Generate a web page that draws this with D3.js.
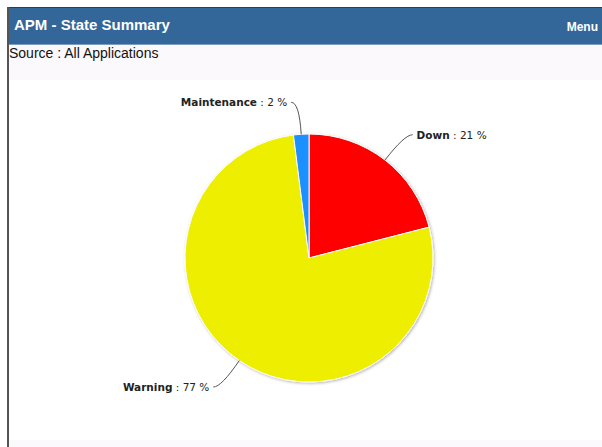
<!DOCTYPE html>
<html>
<head>
<meta charset="utf-8">
<script src="https://cdn.jsdelivr.net/npm/d3@7"></script>
<style>
  body { margin: 0; background: #fff; }
  svg { display: block; }
</style>
</head>
<body>
<div id="chart"></div>
<script>
// dati
var states = ["Down", "Warning", "Maintenance"];
var percents = [21, 77, 2];
var colors = ["#ff0000", "#eeee00", "#1e90ff"];

var W = 602, H = 447;
var cx = 309, cy = 258, r = 124;

var svg = d3.select("#chart").append("svg")
  .attr("width", W)
  .attr("height", H);

// ombra della torta
var defs = svg.append("defs");
var f = defs.append("filter").attr("id", "shadow")
  .attr("x", "-10%").attr("y", "-10%").attr("width", "120%").attr("height", "120%");
f.append("feDropShadow")
  .attr("dx", 1).attr("dy", 1).attr("stdDeviation", 1.5)
  .attr("flood-color", "#000").attr("flood-opacity", 0.3);

// pannello
svg.append("rect").attr("x", 9).attr("y", 8).attr("width", W - 9).attr("height", H - 8)
  .attr("fill", "#fcf9fc");
svg.append("rect").attr("x", 10).attr("y", 80).attr("width", W - 10).attr("height", 360)
  .attr("fill", "#ffffff");

// header
svg.append("rect").attr("x", 9).attr("y", 8).attr("width", W - 9).attr("height", 36)
  .attr("fill", "#336699");
svg.append("line").attr("x1", 9).attr("x2", W).attr("y1", 7.5).attr("y2", 7.5)
  .attr("stroke", "#3a3a3a").attr("stroke-width", 1);
svg.append("line").attr("x1", 9).attr("x2", W).attr("y1", 44.5).attr("y2", 44.5)
  .attr("stroke", "#7d9cc0").attr("stroke-width", 1);
// bordo sinistro
svg.append("line").attr("x1", 8).attr("x2", 8).attr("y1", 7).attr("y2", H)
  .attr("stroke", "#555").attr("stroke-width", 2);

svg.append("text").attr("x", 14).attr("y", 30)
  .style("font-family", "Arial, 'Liberation Sans', sans-serif")
  .style("font-size", "15px").style("font-weight", "bold")
  .attr("fill", "#fff")
  .text("APM - State Summary");
svg.append("text").attr("x", 598).attr("y", 31).attr("text-anchor", "end")
  .style("font-family", "Arial, 'Liberation Sans', sans-serif")
  .style("font-size", "12px").style("font-weight", "bold")
  .attr("fill", "#fff")
  .text("Menu");

svg.append("text").attr("x", 9).attr("y", 58)
  .style("font-family", "Arial, 'Liberation Sans', sans-serif")
  .style("font-size", "14px")
  .attr("fill", "#111")
  .text("Source : All Applications");

// torta
var data = states.map(function(s, i) { return {state: s, value: percents[i], color: colors[i]}; });

var pie = d3.pie().sort(null).value(function(d) { return d.value; });
var arc = d3.arc().innerRadius(0).outerRadius(r);

var g = svg.append("g").attr("transform", "translate(" + cx + "," + cy + ")");

var arcs = pie(data);

g.append("g").attr("filter", "url(#shadow)")
  .selectAll("path")
  .data(arcs)
  .enter()
  .append("path")
    .attr("d", arc)
    .attr("fill", function(d) { return d.data.color; })
    .attr("stroke", "#fff")
    .attr("stroke-width", 1)
    .attr("stroke-linejoin", "round");

// etichette con connettori
function pt(a, rad) { return [Math.sin(a) * rad, -Math.cos(a) * rad]; }

arcs.forEach(function(d) {
  var a = (d.startAngle + d.endAngle) / 2;
  var side = Math.sin(a) >= 0 ? 1 : -1;
  var p0 = pt(a, r);
  var p1 = pt(a, r + 32);
  var p2 = [p1[0] + side * 8, p1[1]];
  g.append("path")
    .attr("d", "M" + p0 + "Q" + p1 + " " + p2)
    .attr("fill", "none")
    .attr("stroke", "#555")
    .attr("stroke-width", 1);
  var t = g.append("text")
    .attr("x", p2[0] + side * 4)
    .attr("y", p2[1] + 4)
    .attr("text-anchor", side > 0 ? "start" : "end")
    .style("font-family", "Verdana, 'DejaVu Sans', sans-serif")
    .style("font-size", "10.5px")
    .attr("fill", "#222");
  t.append("tspan").style("font-weight", "bold").text(d.data.state);
  t.append("tspan").text(" : " + d.data.value + " %");
});
</script>
</body>
</html>
